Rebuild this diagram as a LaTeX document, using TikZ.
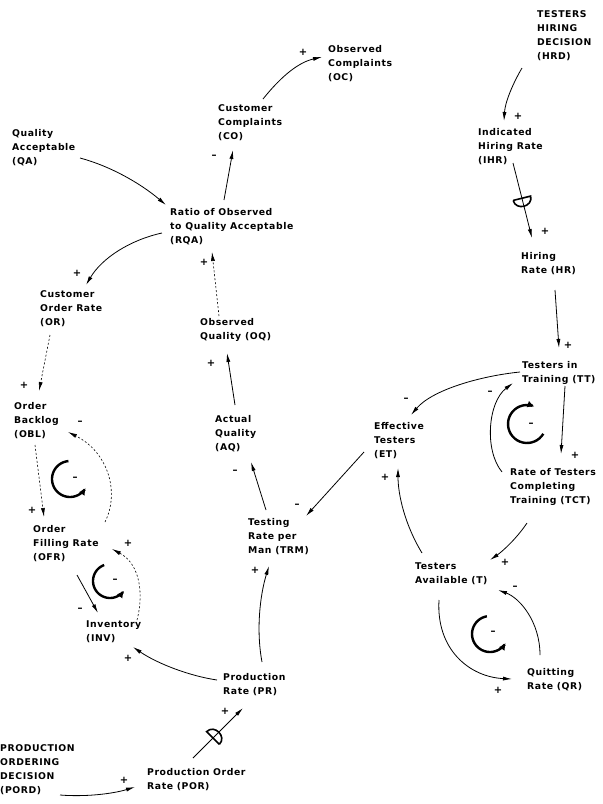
\documentclass[tikz,border=0pt]{standalone}
\usepackage{fontspec}
\newfontfamily\lblfont{DejaVu Sans}[LetterSpace=6]
\usetikzlibrary{arrows.meta}
\tikzset{
  lbl/.style={font=\lblfont\bfseries\fontsize{9.3}{14}\selectfont, align=left, inner sep=0pt, anchor=north west},
  sgn/.style={font=\lblfont\bfseries\fontsize{10}{10}\selectfont, inner sep=0pt},
  conn/.style={line width=0.8pt, -{Latex[length=9pt,width=4pt]}},
  faint/.style={conn, line width=0.6pt, dash pattern=on 2pt off 2pt},
  loopar/.style={line width=2.4pt, -{Latex[length=7pt,width=7pt]}},
  valve/.style={line width=1.6pt},
}
\begin{document}
\begin{tikzpicture}[x=1pt,y=-1pt]
\path[use as bounding box, fill=white] (0,0) rectangle (603,804);

% variables
\node[lbl] (HRD) at (537,10) {TESTERS\\HIRING\\DECISION\\(HRD)};
\node[lbl] (OC) at (328,45) {Observed\\Complaints\\(OC)};
\node[lbl] (CO) at (218,104) {Customer\\Complaints\\(CO)};
\node[lbl] (IHR) at (478,128) {Indicated\\Hiring Rate\\(IHR)};
\node[lbl] (QA) at (12,129) {Quality\\Acceptable\\(QA)};
\node[lbl] (RQA) at (170,208) {Ratio of Observed\\to Quality Acceptable\\(RQA)};
\node[lbl] (HR) at (521,252) {Hiring\\Rate (HR)};
\node[lbl] (COR) at (40,290) {Customer\\Order Rate\\(OR)};
\node[lbl] (OQ) at (200,318) {Observed\\Quality (OQ)};
\node[lbl] (TT) at (522,361) {Testers in\\Training (TT)};
\node[lbl] (OB) at (14,402) {Order\\Backlog\\(OBL)};
\node[lbl] (AQ) at (215,415) {Actual\\Quality\\(AQ)};
\node[lbl] (ET) at (374,422) {Effective\\Testers\\(ET)};
\node[lbl] (TCT) at (510,468) {Rate of Testers\\Completing\\Training (TCT)};
\node[lbl] (TRM) at (248,518) {Testing\\Rate per\\Man (TRM)};
\node[lbl] (OFR) at (33,525) {Order\\Filling Rate\\(OFR)};
\node[lbl] (T) at (415,563) {Testers\\Available (T)};
\node[lbl] (INV) at (86,621) {Inventory\\(INV)};
\node[lbl] (QR) at (527,668) {Quitting\\Rate (QR)};
\node[lbl] (PR) at (223,673) {Production\\Rate (PR)};
\node[lbl] (PORD) at (0,744) {PRODUCTION\\ORDERING\\DECISION\\(PORD)};
\node[lbl] (POR) at (147,768) {Production Order\\Rate (POR)};

% connectors
\draw[conn] ([shift={(45,-5)}]CO.north west) .. controls (283,74) and (300,62) .. ([shift={(-6,12)}]OC.north west);
\draw[conn] ([shift={(54,-8)}]RQA.north west) -- ([shift={(15,46)}]CO.north west);
\draw[conn] ([shift={(68,29)}]QA.north west) .. controls (110,166) and (140,183) .. ([shift={(-4,-3)}]RQA.north west);
\draw[conn] ([shift={(-8,25)}]RQA.north west) .. controls (130,240) and (102,258) .. ([shift={(46,-5)}]COR.north west);
\draw[faint] ([shift={(19,-2)}]OQ.north west) -- ([shift={(42,44)}]RQA.north west);
\draw[conn] ([shift={(20,-10)}]AQ.north west) -- ([shift={(27,35)}]OQ.north west);
\draw[conn] ([shift={(18,-8)}]TRM.north west) -- ([shift={(36,47)}]AQ.north west);
\draw[conn] ([shift={(-10,30)}]ET.north west) -- ([shift={(58,-2)}]TRM.north west);
\draw[conn] ([shift={(-2,11)}]TT.north west) .. controls (480,376) and (432,390) .. ([shift={(37,-7)}]ET.north west);
\draw[conn] ([shift={(34,38)}]HR.north west) -- ([shift={(37,-13)}]TT.north west);
\draw[conn] ([shift={(43,25)}]TT.north west) -- ([shift={(51,-14)}]TCT.north west);
\draw[conn] ([shift={(-8,4)}]TCT.north west) .. controls (484,450) and (488,402) .. ([shift={(-9,22)}]TT.north west);
\draw[conn] ([shift={(7,-10)}]T.north west) .. controls (405,525) and (398,495) .. ([shift={(24,46)}]ET.north west);
\draw[conn] ([shift={(17,55)}]TCT.north west) .. controls (517,538) and (503,551) .. ([shift={(75,-3)}]T.north west);
\draw[conn] ([shift={(24,37)}]T.north west) .. controls (436,650) and (470,677) .. ([shift={(-15,11)}]QR.north west);
\draw[conn] ([shift={(13,-13)}]QR.north west) .. controls (540,622) and (520,598) .. ([shift={(83,27)}]T.north west);
\draw[conn] ([shift={(-15,58)}]HRD.north west) .. controls (512,85) and (505,103) .. ([shift={(26,-7)}]IHR.north west);
\draw[conn] ([shift={(35,35)}]IHR.north west) -- coordinate[pos=0.47] (v1) ([shift={(11,-14)}]HR.north west);
\draw[conn] ([shift={(60,51)}]PORD.north west) .. controls (85,797) and (112,794) .. ([shift={(-12,19)}]POR.north west);
\draw[conn] ([shift={(46,-10)}]POR.north west) -- coordinate[pos=0.4] (v2) ([shift={(20,35)}]PR.north west);
\draw[conn] ([shift={(39,-11)}]PR.north west) .. controls (256,630) and (260,595) .. ([shift={(21,48)}]TRM.north west);
\draw[conn] ([shift={(-6,7)}]PR.north west) .. controls (190,676) and (158,664) .. ([shift={(47,26)}]INV.north west);
\draw[conn] ([shift={(44,50)}]OFR.north west) -- ([shift={(12,-8)}]INV.north west);
\draw[faint] ([shift={(51,-1)}]INV.north west) .. controls (143,598) and (142,565) .. ([shift={(79,24)}]OFR.north west);
\draw[faint] ([shift={(21,43)}]OB.north west) -- ([shift={(11,-8)}]OFR.north west);
\draw[faint] ([shift={(72,-3)}]OFR.north west) .. controls (120,492) and (108,452) .. ([shift={(54,30)}]OB.north west);
\draw[faint] ([shift={(10,45)}]COR.north west) -- ([shift={(25,-11)}]OB.north west);

% valves
\begin{scope}[shift={(v1)}, rotate=14]
  \draw[valve] (-9,0) -- (9,0) .. controls (9,11) and (-9,11) .. (-9,0);
\end{scope}
\begin{scope}[shift={(v2)}, rotate=135]
  \draw[valve] (-9,0) -- (9,0) .. controls (9,11) and (-9,11) .. (-9,0);
\end{scope}

% loop symbols
\draw[loopar] plot[smooth, domain=0:262, samples=30, variable=\t] ({527+19*cos(-31-\t)}, {424-19*sin(-31-\t)});
\draw[loopar] plot[smooth, domain=0:230, samples=30, variable=\t] ({490+18*cos(100+\t)}, {634-18*sin(100+\t)});
\draw[loopar] plot[smooth, domain=0:215, samples=30, variable=\t] ({110+17*cos(110+\t)}, {581-17*sin(110+\t)});
\draw[loopar] plot[smooth, domain=0:235, samples=30, variable=\t] ({70+18*cos(95+\t)}, {479-18*sin(95+\t)});
\node[sgn] (l1) at (531,425) {–};
\node[sgn] (l2) at (493,633) {–};
\node[sgn] (l3) at (115,581) {–};
\node[sgn] (l4) at (75,479) {–};

% signs
\node[sgn] (s1) at (303,52) {+};
\node[sgn] (s2) at (214,157) {–};
\node[sgn] (s3) at (77,273) {+};
\node[sgn] (s4) at (204,262) {+};
\node[sgn] (s5) at (211,363) {+};
\node[sgn] (s6) at (235,472) {–};
\node[sgn] (s7) at (297,506) {–};
\node[sgn] (s8) at (406,400) {–};
\node[sgn] (s9) at (568,345) {+};
\node[sgn] (s10) at (575,455) {+};
\node[sgn] (s11) at (490,393) {–};
\node[sgn] (s12) at (385,477) {+};
\node[sgn] (s13) at (505,562) {+};
\node[sgn] (s14) at (498,690) {+};
\node[sgn] (s15) at (515,588) {–};
\node[sgn] (s16) at (518,116) {+};
\node[sgn] (s17) at (545,231) {+};
\node[sgn] (s18) at (124,780) {+};
\node[sgn] (s19) at (225,711) {+};
\node[sgn] (s20) at (255,570) {+};
\node[sgn] (s21) at (128,658) {+};
\node[sgn] (s22) at (80,610) {–};
\node[sgn] (s23) at (128,543) {+};
\node[sgn] (s24) at (32,510) {+};
\node[sgn] (s25) at (80,423) {–};
\node[sgn] (s26) at (24,385) {+};
\end{tikzpicture}
\end{document}
